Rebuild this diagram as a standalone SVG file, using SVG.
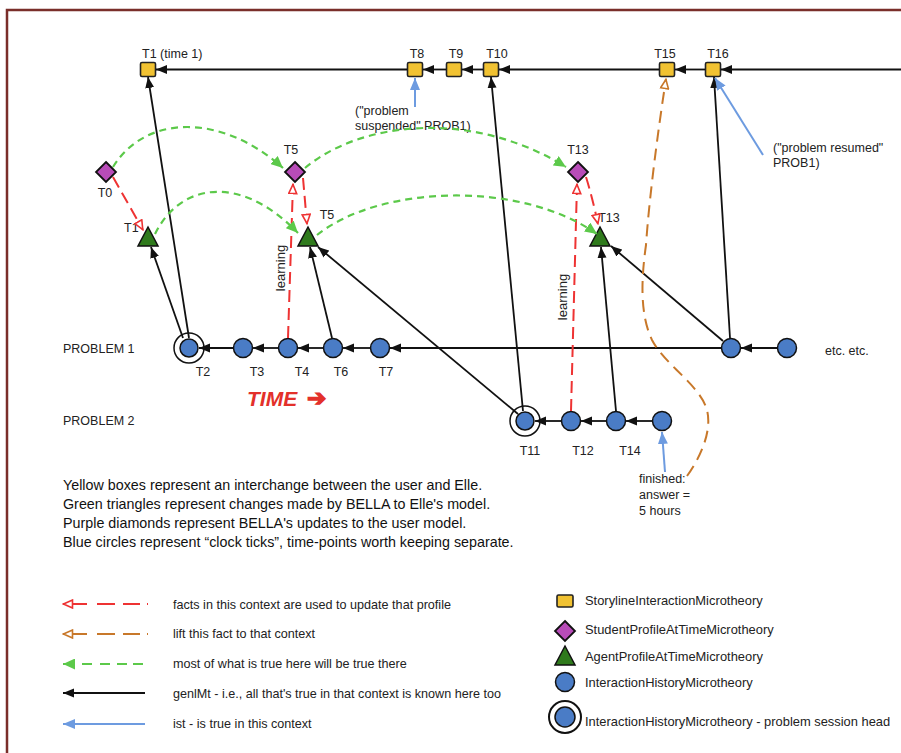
<svg xmlns="http://www.w3.org/2000/svg" width="901" height="753" viewBox="0 0 901 753">
<style>
text{font-family:"Liberation Sans",Arial,sans-serif;fill:#222}
.lbl{font-size:12.5px}
.mid{text-anchor:middle}
.para{font-size:14.3px;fill:#111}
.leg{font-size:12.6px}
.leg2{font-size:12.9px}
.box{fill:#f1c232;stroke:#222;stroke-width:1.6}
.dia{fill:#b84cb8;stroke:#111;stroke-width:1.8}
.tri{fill:#2f7a1c;stroke:#111;stroke-width:1.5}
.cir{fill:#4a7cc6;stroke:#111;stroke-width:1.5}
.ring{fill:none;stroke:#111;stroke-width:1.5}
.blk{stroke:#111;stroke-width:1.8;fill:none;marker-end:url(#ab)}
.red{stroke:#ee3333;stroke-width:2;fill:none;stroke-dasharray:12 6;marker-end:url(#ar)}
.grn{stroke:#5cc94a;stroke-width:2.2;fill:none;stroke-dasharray:7 5;marker-end:url(#ag)}
.org{stroke:#c8782a;stroke-width:2;fill:none;stroke-dasharray:12 7;marker-end:url(#ao)}
.blu{stroke:#6d9be0;stroke-width:2;fill:none;marker-end:url(#au)}
.lg{fill:none;stroke-width:2}
</style>
<defs>
<marker id="ab" markerUnits="userSpaceOnUse" markerWidth="12" markerHeight="10" refX="11" refY="5" orient="auto-start-reverse"><path d="M0,0.5 L11,5 L0,9.5 z" fill="#111"/></marker>
<marker id="ar" markerUnits="userSpaceOnUse" markerWidth="12" markerHeight="10" refX="10.5" refY="5" orient="auto-start-reverse"><path d="M1,1 L10,5 L1,9 z" fill="#fff" stroke="#ee3333" stroke-width="1.6"/></marker>
<marker id="ao" markerUnits="userSpaceOnUse" markerWidth="12" markerHeight="10" refX="10.5" refY="5" orient="auto-start-reverse"><path d="M1,1 L10,5 L1,9 z" fill="#fff" stroke="#c8782a" stroke-width="1.6"/></marker>
<marker id="ag" markerUnits="userSpaceOnUse" markerWidth="13" markerHeight="11" refX="12" refY="5.5" orient="auto-start-reverse"><path d="M0,0 L12,5.5 L0,11 z" fill="#5cc94a"/></marker>
<marker id="au" markerUnits="userSpaceOnUse" markerWidth="13" markerHeight="11" refX="12" refY="5.5" orient="auto-start-reverse"><path d="M0,0.5 L12,5.5 L0,10.5 z" fill="#6d9be0"/></marker>
</defs>
<rect width="901" height="753" fill="#fff"/>
<path d="M7,753 L7,10 L901,10" fill="none" stroke="#7a2e2a" stroke-width="2.5"/>

<!-- storyline boxes -->
<g id="T1"><rect class="box" x="140.5" y="62.5" width="15" height="14" rx="1.5"/><text class="lbl" x="142" y="58">T1 (time 1)</text></g>
<g id="T8"><rect class="box" x="407.5" y="62.5" width="15" height="14" rx="1.5"/><text class="lbl mid" x="417" y="58">T8</text></g>
<g id="T9"><rect class="box" x="446.5" y="62.5" width="15" height="14" rx="1.5"/><text class="lbl mid" x="456" y="58">T9</text></g>
<g id="T10"><rect class="box" x="483.5" y="62.5" width="15" height="14" rx="1.5"/><text class="lbl mid" x="497" y="58">T10</text></g>
<g id="T15"><rect class="box" x="659.5" y="62.5" width="15" height="14" rx="1.5"/><text class="lbl mid" x="665" y="58">T15</text></g>
<g id="T16"><rect class="box" x="705.5" y="62.5" width="15" height="14" rx="1.5"/><text class="lbl mid" x="718" y="58">T16</text></g>

<!-- student profile diamonds -->
<g id="T0d"><path class="dia" d="M106,162 L116,172 L106,182 L96,172 z"/><text class="lbl mid" x="105" y="197">T0</text></g>
<g id="T5d"><path class="dia" d="M295,162 L305,172 L295,182 L285,172 z"/><text class="lbl mid" x="291" y="154">T5</text></g>
<g id="T13d"><path class="dia" d="M578,162 L588,172 L578,182 L568,172 z"/><text class="lbl mid" x="578" y="154">T13</text></g>

<!-- agent profile triangles -->
<g id="T1t"><path class="tri" d="M148,227 L158,246 L138,246 z"/><text class="lbl" x="124" y="232">T1</text></g>
<g id="T5t"><path class="tri" d="M308,227 L318,246 L298,246 z"/><text class="lbl mid" x="327" y="219">T5</text></g>
<g id="T13t"><path class="tri" d="M600,227 L610,246 L590,246 z"/><text class="lbl mid" x="609" y="222">T13</text></g>

<!-- problem 1 -->
<text class="lbl" x="63" y="353">PROBLEM 1</text>
<g id="T2"><circle class="ring" cx="189" cy="348" r="15"/><circle class="cir" cx="189" cy="348" r="9"/><text class="lbl mid" x="203" y="376">T2</text></g>
<g id="T3"><circle class="cir" cx="243" cy="348" r="9.5"/><text class="lbl mid" x="257" y="376">T3</text></g>
<g id="T4"><circle class="cir" cx="288" cy="348" r="9.5"/><text class="lbl mid" x="302" y="376">T4</text></g>
<g id="T6"><circle class="cir" cx="333" cy="348" r="9.5"/><text class="lbl mid" x="341" y="376">T6</text></g>
<g id="T7"><circle class="cir" cx="380" cy="348" r="9.5"/><text class="lbl mid" x="386" y="376">T7</text></g>
<g id="P1a"><circle class="cir" cx="731" cy="348" r="9.5"/></g>
<g id="P1b"><circle class="cir" cx="787" cy="348" r="9.5"/></g>
<text class="lbl" x="825" y="355">etc. etc.</text>

<!-- problem 2 -->
<text class="lbl" x="63" y="425">PROBLEM 2</text>
<g id="T11"><circle class="ring" cx="525" cy="421" r="15"/><circle class="cir" cx="525" cy="421" r="9"/><text class="lbl mid" x="530" y="455">T11</text></g>
<g id="T12"><circle class="cir" cx="571" cy="421" r="9.5"/><text class="lbl mid" x="583" y="455">T12</text></g>
<g id="T14"><circle class="cir" cx="616" cy="421" r="9.5"/><text class="lbl mid" x="630" y="455">T14</text></g>
<g id="P2a"><circle class="cir" cx="662" cy="421" r="9.5"/></g>

<!-- annotations -->
<text class="lbl" x="355" y="115">("problem</text>
<text class="lbl" x="355" y="130">suspended" PROB1)</text>
<text class="lbl" x="773" y="152">("problem resumed"</text>
<text class="lbl" x="773" y="167">PROB1)</text>
<text class="lbl" x="639" y="483">finished:</text>
<text class="lbl" x="639" y="499">answer =</text>
<text class="lbl" x="639" y="515">5 hours</text>
<text class="lbl" transform="rotate(-90 285 268)" x="285" y="268" text-anchor="middle" style="font-size:13px">learning</text>
<text class="lbl" transform="rotate(-90 567 297)" x="567" y="297" text-anchor="middle" style="font-size:13px">learning</text>
<text x="247" y="406" style="font-size:21px;font-weight:bold;font-style:italic;fill:#e3302a">TIME <tspan dx="4" style="font-family:'DejaVu Sans',sans-serif;font-style:normal;font-weight:bold;font-size:23px;stroke:#e3302a;stroke-width:1.4">➔</tspan></text>

<!-- connectors -->
<g id="connectors">
<path class="blk" d="M901,69.5 L721,69.5"/>
<path class="blk" d="M705,69.5 L675,69.5"/>
<path class="blk" d="M659,69.5 L499,69.5"/>
<path class="blk" d="M483,69.5 L462,69.5"/>
<path class="blk" d="M446,69.5 L423,69.5"/>
<path class="blk" d="M407,69.5 L156,69.5"/>
<path class="blk" d="M189,338 L148,77"/>
<path class="blk" d="M183,338 L151,247"/>
<path class="blk" d="M332,338 L310,247"/>
<path class="blk" d="M518,414 L318,247"/>
<path class="blk" d="M523,411 L491,77"/>
<path class="blk" d="M616,411 L601,247"/>
<path class="blk" d="M723,341 L611,246"/>
<path class="blk" d="M730,338 L714,77"/>
<path class="blk" d="M777,348 L741,348"/>
<path class="blk" d="M721,348 L390,348"/>
<path class="blk" d="M370,348 L343,348"/>
<path class="blk" d="M323,348 L298,348"/>
<path class="blk" d="M278,348 L253,348"/>
<path class="blk" d="M233,348 L199,348"/>
<path class="blk" d="M652,421 L626,421"/>
<path class="blk" d="M606,421 L581,421"/>
<path class="blk" d="M561,421 L535,421"/>
<path class="red" d="M113,177 L143,230"/>
<path class="red" d="M288,338 L293,184"/>
<path class="red" d="M303,178 L307,224"/>
<path class="red" d="M571,411 L577,184"/>
<path class="red" d="M586,177 Q592,196 598,224"/>
<path class="grn" d="M113,167 C145,115 220,112 283,168"/>
<path class="grn" d="M305,168 C360,122 470,108 566,167"/>
<path class="grn" d="M155,234 C180,183 240,173 298,233"/>
<path class="grn" d="M317,235 C380,185 520,180 597,234"/>
<path class="org" d="M687,476 C702,455 712,430 707,410 C700,385 665,365 652,340 C640,315 641,280 646,245 C649,200 658,130 666,79"/>
<path class="blu" d="M415,107 L415,78"/>
<path class="blu" d="M763,155 L715,78"/>
<path class="blu" d="M665,472 L662,432"/>
</g>

<!-- description -->
<text class="para" x="63" y="490">Yellow boxes represent an interchange between the user and Elle.</text>
<text class="para" x="63" y="509">Green triangles represent changes made by BELLA to Elle's model.</text>
<text class="para" x="63" y="528">Purple diamonds represent BELLA's updates to the user model.</text>
<text class="para" x="63" y="547">Blue circles represent “clock ticks”, time-points worth keeping separate.</text>

<!-- legend: connectors -->
<g id="legend-lines">
<path class="lg" d="M63,604 L148,604" stroke="#ee3333" stroke-dasharray="24 10 18 8 17 7 1" marker-start="url(#ar)"/>
<path class="lg" d="M63,634 L148,634" stroke="#c8782a" stroke-dasharray="24 10 18 8 17 7 1" marker-start="url(#ao)"/>
<path class="lg" d="M63,664 L143,664" stroke="#5cc94a" stroke-dasharray="12 7 10 8 10 7 10 6 10" marker-start="url(#ag)"/>
<path class="lg" d="M63,693 L145,693" stroke="#111" marker-start="url(#ab)"/>
<path class="lg" d="M63,724 L145,724" stroke="#6d9be0" marker-start="url(#au)"/>
<text class="leg" x="173" y="609">facts in this context are used to update that profile</text>
<text class="leg" x="173" y="638">lift this fact to that context</text>
<text class="leg" x="173" y="668">most of what is true here will be true there</text>
<text class="leg" x="173" y="698">genlMt - i.e., all that's true in that context is known here too</text>
<text class="leg" x="173" y="728">ist - is true in this context</text>
</g>

<!-- legend: node kinds -->
<g id="legend-nodes">
<rect class="box" x="557" y="595" width="16" height="12" rx="1.5"/>
<text class="leg2" x="585" y="605">StorylineInteractionMicrotheory</text>
<path class="dia" d="M565,621 L575,631 L565,641 L555,631 z"/>
<text class="leg2" x="585" y="634">StudentProfileAtTimeMicrotheory</text>
<path class="tri" d="M565,646 L575,665 L555,665 z"/>
<text class="leg2" x="585" y="661">AgentProfileAtTimeMicrotheory</text>
<circle class="cir" cx="565" cy="682" r="9.5"/>
<text class="leg2" x="585" y="687">InteractionHistoryMicrotheory</text>
<circle class="ring" cx="565" cy="717" r="16" style="stroke-width:2"/>
<circle class="cir" cx="565" cy="717" r="10"/>
<text class="leg2" x="585" y="726">InteractionHistoryMicrotheory - problem session head</text>
</g>
</svg>
